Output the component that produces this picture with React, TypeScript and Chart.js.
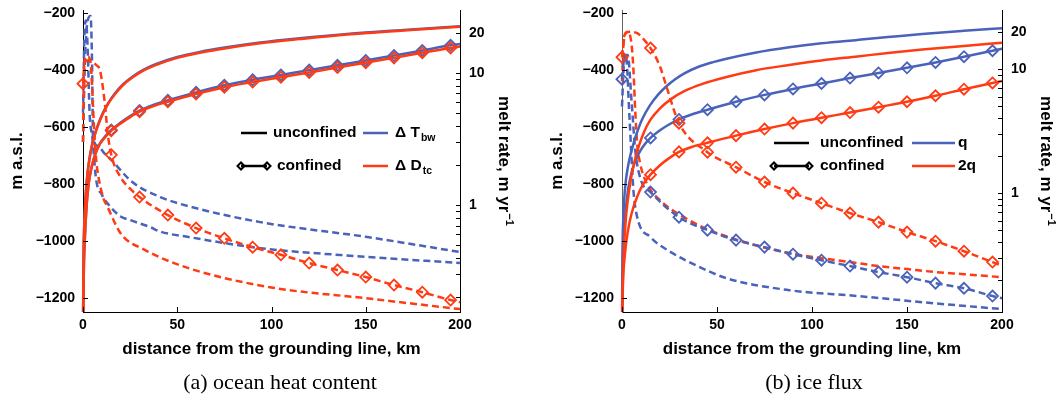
import React, { useEffect, useRef } from "react";
import { Chart, registerables } from "chart.js";

Chart.register(...registerables);

// ---------------- axis ticks ----------------
const X_TICKS = [0, 50, 100, 150, 200];
const DEPTH_TICKS = [-1200, -1000, -800, -600, -400, -200];
const MELT_TICKS = [0.2, 0.3, 0.4, 0.5, 0.6, 0.7, 0.8, 0.9, 1, 2, 3, 4, 5, 6, 7, 8, 9, 10, 20];
const MELT_LABELED = [1, 10, 20];
const MARKER_KM = [0, 15, 30, 45, 60, 75, 90, 105, 120, 135, 150, 165, 180, 195];

// ---------------- panel (a): ocean heat content ----------------
// ice-base elevation (m a.s.l.), unconfined
const aUnconfKm = [0, 0.3, 0.6, 1, 1.6, 2.4, 3.4, 4.6, 6, 8, 10.5, 13.5, 17, 21, 26, 32, 40, 50, 62, 76, 94, 115, 140, 170, 200];
const aUnconfOrange = [-1300, -1050, -960, -895, -825, -765, -715, -672, -635, -595, -555, -518, -485, -455, -428, -403, -380, -358, -340, -324, -307, -292, -276, -262, -249];
const aUnconfBlue = [-1300, -1047, -957, -892, -822, -762, -712, -669, -632, -592, -552, -515, -482, -452, -425, -400, -377, -355, -337, -321, -304, -289, -274, -260, -247];
// ice-base elevation, confined
const aConfKm = [0, 0.5, 1, 2, 3, 4.5, 6.5, 9, 12, 15, 20, 25, 30, 37, 45, 60, 75, 90, 105, 120, 135, 150, 165, 180, 195, 200];
const aConfOrange = [-1300, -1080, -990, -870, -800, -745, -697, -660, -635, -614, -588, -566, -547, -528, -512, -485, -461, -443, -426, -409, -392, -375, -358, -340, -323, -318];
const aConfBlue = [-1300, -1079, -988, -868, -798, -743, -695, -658, -632, -611, -585, -562, -543, -524, -507, -479, -454, -435, -418, -401, -384, -367, -350, -332, -314, -309];
// melt rate (m/yr)
const aMeltConfOrangeKm = [0, 1, 3, 5, 7, 9, 11.7, 13, 15, 20, 25, 30, 45, 60, 75, 90, 105, 120, 135, 150, 165, 180, 195, 200];
const aMeltConfOrange = [8.3, 12.1, 12.5, 12.2, 11.5, 10.5, 5.7, 3.6, 2.4, 1.62, 1.33, 1.15, 0.84, 0.67, 0.56, 0.48, 0.42, 0.364, 0.322, 0.285, 0.248, 0.219, 0.191, 0.184];
const aMeltUnconfOrangeKm = [0, 0.5, 1, 2.5, 4, 5, 6, 7, 8, 10.6, 13, 20, 33, 56, 99, 150, 200];
const aMeltUnconfOrange = [3, 10, 13, 13.3, 12, 7, 3.5, 2.2, 1.7, 1.15, 0.97, 0.61, 0.456, 0.333, 0.239, 0.197, 0.163];
const aMeltBlueUpperKm = [0, 1, 2.5, 4, 4.8, 5.3, 8, 11, 15, 26, 41, 56, 94, 150, 200];
const aMeltBlueUpper = [3, 12, 25, 27, 12, 3.3, 2.8, 2.5, 2.2, 1.5, 1.15, 0.98, 0.743, 0.575, 0.441];
const aMeltBlueLowerKm = [0, 0.8, 1.6, 2.5, 3.5, 5, 7, 10, 13, 20, 25, 35.5, 41, 56, 94, 150, 200];
const aMeltBlueLower = [5, 20, 25, 15, 5, 3.2, 1.55, 1.2, 1.03, 0.82, 0.77, 0.682, 0.63, 0.573, 0.472, 0.406, 0.364];

// ---------------- panel (b): ice flux ----------------
const bUnconfBlueKm = [0, 0.3, 0.7, 1.2, 2, 3, 4.2, 6, 7.9, 10.5, 14.7, 19, 23.7, 28, 32.6, 40, 48, 55, 70, 88, 105, 124, 140, 158, 180, 200];
const bUnconfBlue = [-1300, -1020, -920, -850, -790, -745, -705, -660, -620, -575, -525, -487, -456, -433, -413, -390, -373, -361, -340, -321, -307, -295, -285, -274, -263, -254];
const bUnconfOrangeKm = [0, 0.5, 1, 2, 3, 4.5, 6.3, 8.5, 11.6, 15, 20, 26, 33, 42, 55, 70, 88, 105, 124, 140, 158, 180, 200];
const bUnconfOrange = [-1300, -1120, -1030, -925, -860, -790, -730, -675, -618, -575, -535, -502, -474, -450, -425, -402, -383, -367, -353, -341, -329, -316, -305];
const bConfBlueKm = [0, 0.4, 1, 2, 3, 4.5, 6.3, 8.5, 11, 15, 20, 25, 30, 37, 45, 60, 75, 90, 105, 120, 135, 150, 165, 180, 195, 200];
const bConfBlue = [-1300, -1080, -980, -890, -830, -775, -733, -698, -670, -639, -612, -591, -574, -556, -540, -512, -488, -467, -448, -429, -411, -393, -374, -354, -333, -326];
const bConfOrangeKm = [0, 0.5, 1.5, 3, 5, 8, 11, 15, 20, 25, 30, 37, 45, 60, 75, 90, 105, 120, 135, 150, 165, 180, 195, 200];
const bConfOrange = [-1300, -1150, -1050, -970, -905, -845, -803, -768, -735, -709, -688, -670, -656, -631, -608, -587, -568, -550, -531, -512, -491, -468, -446, -439];
const bMeltConfOrangeKm = [0, 1, 2, 4, 8, 12, 15, 20, 23.7, 30, 45, 60, 75, 90, 105, 120, 135, 150, 165, 180, 195, 200];
const bMeltConfOrange = [12.5, 17, 19.5, 20, 19.5, 17, 14.8, 10.5, 7.0, 3.67, 2.14, 1.62, 1.23, 1.0, 0.83, 0.69, 0.584, 0.485, 0.41, 0.34, 0.278, 0.26];
const bMeltConfBlueKm = [0, 1.5, 3, 5, 7, 10, 15, 30, 45, 60, 75, 90, 105, 120, 135, 150, 165, 180, 195, 200];
const bMeltConfBlue = [8.3, 13, 13, 5.6, 2.2, 1.27, 1.02, 0.64, 0.503, 0.418, 0.367, 0.322, 0.288, 0.258, 0.231, 0.21, 0.188, 0.171, 0.148, 0.142];
const bMeltUnconfOrangeKm = [0, 1, 3, 5, 6, 7, 8, 9.5, 13, 20, 32.6, 46, 61, 76, 91, 105, 120, 135, 150, 165, 180, 200];
const bMeltUnconfOrange = [8, 18, 20, 16, 10, 4.5, 2.5, 1.75, 1.2, 0.878, 0.64, 0.503, 0.418, 0.36, 0.322, 0.299, 0.278, 0.258, 0.244, 0.231, 0.222, 0.21];
const bMeltUnconfBlueKm = [0, 1, 2, 4, 6, 8, 15, 24, 41, 55, 88, 124, 158, 200];
const bMeltUnconfBlue = [5, 11, 13, 3.9, 1.06, 0.64, 0.442, 0.347, 0.253, 0.206, 0.165, 0.148, 0.132, 0.116];

// ---------------- styling ----------------
const BLUE = "#4a62ba";
const ORANGE = "#ff3b14";
const SANS = "'Liberation Sans', Arial, Helvetica, sans-serif";
const SERIF = "'Liberation Serif', 'Times New Roman', Times, serif";

interface SeriesSpec {
  km: number[];
  v: number[];
  color: string;
  axis: "y" | "y2";
  dashed: boolean;
  markers: boolean;
  order: number;
}

interface LegendSpec {
  r1: number; r2: number;
  s0: number; s1: number;
  t1: number; t2: number;
  c0: number; c1: number;
  ct: number;
  blue: [string, string];
  orange: [string, string];
}

interface PanelSpec {
  series: SeriesSpec[];
  meltMin: number;
  caption: string;
  captionX: number;
  yWidth: number;
  y2Width: number;
  leftAxisColor: string;
  leftTitleX: number;
  rightTitleX: number;
  legend: LegendSpec;
}

const S = (km: number[], v: number[], color: string, axis: "y" | "y2", dashed: boolean, markers: boolean, order: number): SeriesSpec =>
  ({ km, v, color, axis, dashed, markers, order });

const PANEL_A: PanelSpec = {
  series: [
    S(aUnconfKm, aUnconfOrange, ORANGE, "y", false, false, 1),
    S(aUnconfKm, aUnconfBlue, BLUE, "y", false, false, 2),
    S(aConfKm, aConfOrange, ORANGE, "y", false, true, 1),
    S(aConfKm, aConfBlue, BLUE, "y", false, true, 2),
    S(aMeltConfOrangeKm, aMeltConfOrange, ORANGE, "y2", true, true, 1),
    S(aMeltUnconfOrangeKm, aMeltUnconfOrange, ORANGE, "y2", true, false, 1),
    S(aMeltBlueUpperKm, aMeltBlueUpper, BLUE, "y2", true, false, 2),
    S(aMeltBlueLowerKm, aMeltBlueLower, BLUE, "y2", true, false, 2),
  ],
  meltMin: 0.155,
  caption: "(a) ocean heat content",
  captionX: 280,
  yWidth: 83,
  y2Width: 69,
  leftAxisColor: "#000",
  leftTitleX: 22,
  rightTitleX: 499,
  legend: { r1: 133, r2: 166, s0: 241, s1: 267, t1: 273, t2: 277, c0: 363, c1: 388, ct: 395, blue: ["\u0394 T", "bw"], orange: ["\u0394 D", "tc"] },
};

const PANEL_B: PanelSpec = {
  series: [
    S(bUnconfOrangeKm, bUnconfOrange, ORANGE, "y", false, false, 1),
    S(bUnconfBlueKm, bUnconfBlue, BLUE, "y", false, false, 2),
    S(bConfOrangeKm, bConfOrange, ORANGE, "y", false, true, 1),
    S(bConfBlueKm, bConfBlue, BLUE, "y", false, true, 2),
    S(bMeltConfOrangeKm, bMeltConfOrange, ORANGE, "y2", true, true, 1),
    S(bMeltUnconfOrangeKm, bMeltUnconfOrange, ORANGE, "y2", true, false, 2),
    S(bMeltConfBlueKm, bMeltConfBlue, BLUE, "y2", true, true, 1),
    S(bMeltUnconfBlueKm, bMeltUnconfBlue, BLUE, "y2", true, false, 2),
  ],
  meltMin: 0.11,
  caption: "(b) ice flux",
  captionX: 285,
  yWidth: 93,
  y2Width: 56,
  leftAxisColor: "#666",
  leftTitleX: 33,
  rightTitleX: 512,
  legend: { r1: 143, r2: 166, s0: 245, s1: 280, t1: 291, t2: 291, c0: 383, c1: 426, ct: 429, blue: ["q", ""], orange: ["2q", ""] },
};

function diamond(ctx: CanvasRenderingContext2D, x: number, y: number, r: number) {
  ctx.beginPath();
  ctx.moveTo(x - r, y);
  ctx.lineTo(x, y - r);
  ctx.lineTo(x + r, y);
  ctx.lineTo(x, y + r);
  ctx.closePath();
  ctx.stroke();
}

function seg(ctx: CanvasRenderingContext2D, x0: number, x1: number, y: number, color: string) {
  ctx.strokeStyle = color;
  ctx.lineWidth = 2.5;
  ctx.beginPath();
  ctx.moveTo(x0, y);
  ctx.lineTo(x1, y);
  ctx.stroke();
}

function labelWithSub(ctx: CanvasRenderingContext2D, parts: [string, string], x: number, y: number) {
  ctx.font = `bold 15.5px ${SANS}`;
  ctx.fillText(parts[0], x, y);
  if (parts[1]) {
    const w = ctx.measureText(parts[0]).width;
    ctx.font = `bold 10.5px ${SANS}`;
    ctx.fillText(parts[1], x + w + 1, y + 5);
  }
}

function decorPlugin(p: PanelSpec) {
  return {
    id: "decor",
    afterDraw(chart: any) {
      const ctx: CanvasRenderingContext2D = chart.ctx;
      const ca = chart.chartArea;
      const { x, y, y2 } = chart.scales;
      ctx.save();
      // inward tick marks
      ctx.lineWidth = 1;
      ctx.strokeStyle = "#000";
      ctx.beginPath();
      for (const t of x.ticks) {
        const px = Math.round(x.getPixelForValue(t.value)) + 0.5;
        ctx.moveTo(px, ca.bottom);
        ctx.lineTo(px, ca.bottom - 5);
      }
      for (const t of y.ticks) {
        const py = Math.round(y.getPixelForValue(t.value)) + 0.5;
        ctx.moveTo(ca.left, py);
        ctx.lineTo(ca.left + 5, py);
      }
      for (const t of y2.ticks) {
        const py = Math.round(y2.getPixelForValue(t.value)) + 0.5;
        ctx.moveTo(ca.right, py);
        ctx.lineTo(ca.right - 4, py);
      }
      ctx.stroke();

      ctx.fillStyle = "#000";
      const cx = (ca.left + ca.right) / 2;
      const cy = (ca.top + ca.bottom) / 2;

      // x axis title
      ctx.font = `bold 17px ${SANS}`;
      ctx.textAlign = "center";
      ctx.textBaseline = "alphabetic";
      ctx.fillText("distance from the grounding line, km", cx, 354);

      // caption
      ctx.font = `22px ${SERIF}`;
      ctx.fillText(p.caption, p.captionX, 389);

      // left axis title
      ctx.save();
      ctx.translate(p.leftTitleX, cy);
      ctx.rotate(-Math.PI / 2);
      ctx.font = `bold 17px ${SANS}`;
      ctx.textAlign = "center";
      ctx.fillText("m a.s.l.", 0, 0);
      ctx.restore();

      // right axis title
      ctx.save();
      ctx.translate(p.rightTitleX, cy);
      ctx.rotate(Math.PI / 2);
      const main = "melt rate, m yr";
      const sup = "\u22121";
      ctx.font = `bold 17px ${SANS}`;
      const w1 = ctx.measureText(main).width;
      ctx.font = `bold 11px ${SANS}`;
      const w2 = ctx.measureText(sup).width;
      const start = -(w1 + w2 + 1) / 2;
      ctx.textAlign = "left";
      ctx.font = `bold 17px ${SANS}`;
      ctx.fillText(main, start, 0);
      ctx.font = `bold 11px ${SANS}`;
      ctx.fillText(sup, start + w1 + 1, -7);
      ctx.restore();

      // legend
      const L = p.legend;
      ctx.textAlign = "left";
      ctx.textBaseline = "middle";
      seg(ctx, L.s0, L.s1, L.r1, "#000");
      ctx.font = `bold 15.5px ${SANS}`;
      ctx.fillText("unconfined", L.t1, L.r1);
      seg(ctx, L.c0, L.c1, L.r1, BLUE);
      labelWithSub(ctx, L.blue, L.ct, L.r1);

      seg(ctx, L.s0, L.s1, L.r2, "#000");
      ctx.lineWidth = 2;
      diamond(ctx, L.s0, L.r2, 3.5);
      diamond(ctx, L.s1, L.r2, 3.5);
      ctx.font = `bold 15.5px ${SANS}`;
      ctx.fillText("confined", L.t2, L.r2);
      seg(ctx, L.c0, L.c1, L.r2, ORANGE);
      labelWithSub(ctx, L.orange, L.ct, L.r2);

      ctx.restore();
    },
  };
}

function buildConfig(p: PanelSpec): any {
  const tickFont = { family: SANS, size: 14, weight: "bold" as const };
  const datasets = p.series.map((s, i) => ({
    label: `s${i}`,
    data: s.km.map((km, j) => ({ x: km, y: s.v[j] })),
    yAxisID: s.axis,
    borderColor: s.color,
    backgroundColor: "rgba(0,0,0,0)",
    borderWidth: 2.5,
    borderDash: s.dashed ? [7, 4] : [],
    cubicInterpolationMode: "monotone",
    pointStyle: "rectRot",
    pointRadius: s.markers
      ? (c: any) => (c.raw && MARKER_KM.includes(c.raw.x) ? 5.5 : 0)
      : 0,
    pointHoverRadius: 0,
    pointBorderColor: s.color,
    pointBackgroundColor: "rgba(255,255,255,0)",
    pointBorderWidth: 1.8,
    clip: { left: 10, right: 10, top: 2, bottom: 0 },
    order: s.order,
  }));

  return {
    type: "line",
    data: { datasets },
    options: {
      animation: false,
      responsive: true,
      maintainAspectRatio: false,
      devicePixelRatio: 1,
      events: [],
      layout: { padding: { top: 10, left: 0, right: 0, bottom: 0 } },
      plugins: { legend: { display: false }, tooltip: { enabled: false } },
      scales: {
        x: {
          type: "linear",
          position: "bottom",
          min: 0,
          max: 200,
          grid: { display: false, drawTicks: false },
          border: { display: true, color: "#000", width: 1 },
          ticks: { font: tickFont, color: "#000", padding: 5, maxRotation: 0, autoSkip: false, callback: (v: number) => String(v) },
          afterBuildTicks: (s: any) => { s.ticks = X_TICKS.map((value) => ({ value })); },
          afterFit: (s: any) => { s.height = 86; s.paddingLeft = 0; s.paddingRight = 0; },
        },
        y: {
          type: "linear",
          position: "left",
          min: -1250,
          max: -190,
          grid: { display: false, drawTicks: false },
          border: { display: true, color: p.leftAxisColor, width: 1 },
          ticks: {
            font: tickFont, color: "#000", padding: 8, autoSkip: false,
            callback: (v: number) => (v < 0 ? "\u2212" + Math.abs(v) : String(v)),
          },
          afterBuildTicks: (s: any) => { s.ticks = DEPTH_TICKS.map((value) => ({ value })); },
          afterFit: (s: any) => { s.width = p.yWidth; s.paddingTop = 0; s.paddingBottom = 0; },
        },
        y2: {
          type: "logarithmic",
          position: "right",
          min: p.meltMin,
          max: 30,
          grid: { display: false, drawTicks: false },
          border: { display: true, color: "#000", width: 1 },
          ticks: {
            font: tickFont, color: "#000", padding: 9, autoSkip: false,
            callback: (v: number) => (MELT_LABELED.includes(v) ? String(v) : ""),
          },
          afterBuildTicks: (s: any) => { s.ticks = MELT_TICKS.map((value) => ({ value })); },
          afterFit: (s: any) => { s.width = p.y2Width; s.paddingTop = 0; s.paddingBottom = 0; },
        },
      },
    },
    plugins: [decorPlugin(p)],
  };
}

function Panel({ spec, left }: { spec: PanelSpec; left: number }) {
  const ref = useRef<HTMLCanvasElement>(null);
  useEffect(() => {
    const chart = new Chart(ref.current as HTMLCanvasElement, buildConfig(spec));
    return () => chart.destroy();
  }, [spec]);
  return (
    <div style={{ position: "absolute", left, top: 0, width: 529, height: 398 }}>
      <canvas ref={ref} />
    </div>
  );
}

export default function App() {
  return (
    <div style={{ position: "absolute", left: 0, top: 0, width: 1058, height: 398, background: "#fff", overflow: "hidden" }}>
      <Panel spec={PANEL_A} left={0} />
      <Panel spec={PANEL_B} left={529} />
    </div>
  );
}
